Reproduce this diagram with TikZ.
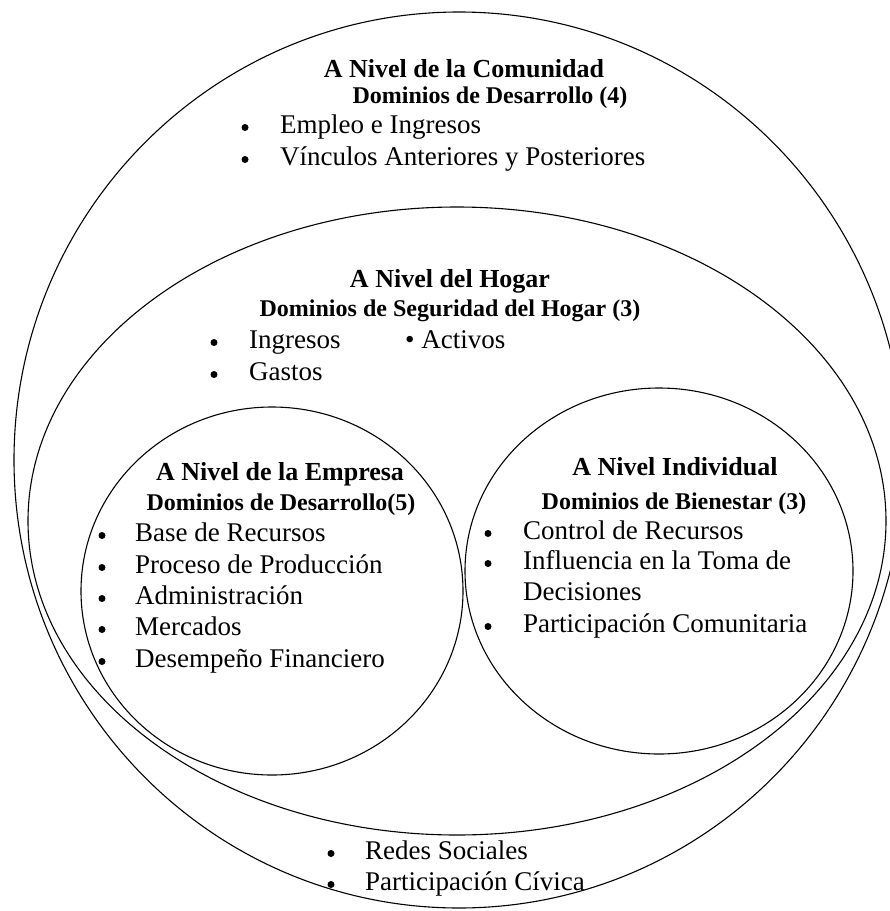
\documentclass[tikz,border=0pt]{standalone}
\usepackage{fontspec}
\setmainfont{Liberation Serif}

\begin{document}
\begin{tikzpicture}[x=1pt, y=-1pt,
    level/.style={line width=1.1pt},
    leveltitle/.style={font=\bfseries\fontsize{26}{30}\selectfont, anchor=mid, inner sep=0pt},
    domtext/.style={font=\bfseries\fontsize{24}{28}\selectfont, anchor=mid, inner sep=0pt},
    itemtext/.style={font=\fontsize{27}{31}\selectfont, anchor=mid west, inner sep=0pt},
    bul/.style={circle, fill, inner sep=0pt, minimum size=7pt, yshift=3.5pt}]
  \useasboundingbox (0,0) rectangle (890,911);

  % the four levels
  \draw [level] (459,460) ellipse [x radius=445, y radius=448];
  \draw [level] (457,521) ellipse [x radius=429, y radius=314];
  \draw [level] (272,591) ellipse [x radius=191, y radius=184];
  \draw [level] (659,571) ellipse [x radius=194, y radius=183];

  % community level
  \node [leveltitle](c) at (464,75) {A Nivel de la Comunidad};
  \node [domtext](cd) at (490,101) {Dominios de Desarrollo (4)};
  \node [bul](cb1) at (245,131) {};
  \node [itemtext](c1) at (280,131) {Empleo e Ingresos};
  \node [bul](cb2) at (245,163) {};
  \node [itemtext](c2) at (280,163) {Vínculos Anteriores y Posteriores};
  \node [bul](cb3) at (331,857) {};
  \node [itemtext](c3) at (365,857) {Redes Sociales};
  \node [bul](cb4) at (331,888) {};
  \node [itemtext](c4) at (365,888) {Participación Cívica};

  % household level
  \node [leveltitle](h) at (450,285) {A Nivel del Hogar};
  \node [domtext](hd) at (450,314) {Dominios de Seguridad del Hogar (3)};
  \node [bul](hb1) at (214,346) {};
  \node [itemtext](h1) at (249,346) {Ingresos};
  \node [itemtext](h2) at (405,346) {• Activos};
  \node [bul](hb3) at (214,378) {};
  \node [itemtext](h3) at (249,378) {Gastos};

  % enterprise level
  \node [leveltitle](e) at (280,478) {A Nivel de la Empresa};
  \node [domtext](ed) at (281,508) {Dominios de Desarrollo(5)};
  \node [bul](eb1) at (102,539) {};
  \node [itemtext](e1) at (135,539) {Base de Recursos};
  \node [bul](eb2) at (102,571) {};
  \node [itemtext](e2) at (135,571) {Proceso de Producción};
  \node [bul](eb3) at (102,602) {};
  \node [itemtext](e3) at (135,602) {Administración};
  \node [bul](eb4) at (102,633) {};
  \node [itemtext](e4) at (135,633) {Mercados};
  \node [bul](eb5) at (102,665) {};
  \node [itemtext](e5) at (135,665) {Desempeño Financiero};

  % individual level
  \node [leveltitle](i) at (675,473) {A Nivel Individual};
  \node [domtext](id) at (674,507) {Dominios de Bienestar (3)};
  \node [bul](ib1) at (488,537) {};
  \node [itemtext](i1) at (523,537) {Control de Recursos};
  \node [bul](ib2) at (488,567) {};
  \node [itemtext](i2) at (523,567) {Influencia en la Toma de};
  \node [itemtext](i2b) at (523,598) {Decisiones};
  \node [bul](ib3) at (488,630) {};
  \node [itemtext](i3) at (523,630) {Participación Comunitaria};
\end{tikzpicture}
\end{document}
